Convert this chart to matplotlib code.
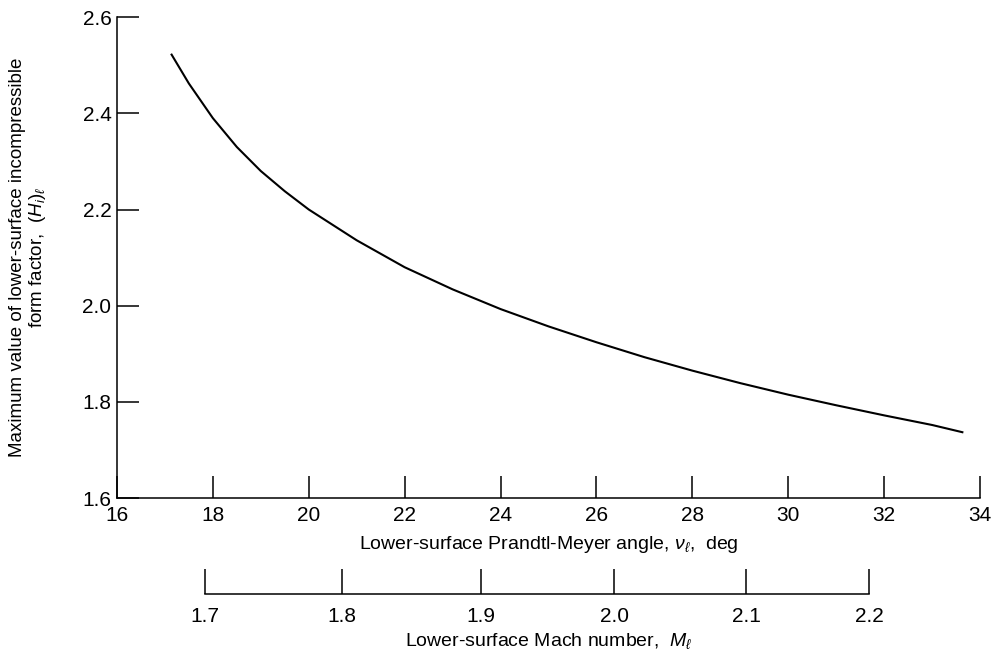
import matplotlib
matplotlib.use("Agg")
import matplotlib.pyplot as plt

plt.rcParams['font.family'] = ['Liberation Sans', 'DejaVu Sans']
plt.rcParams['mathtext.fontset'] = 'custom'
plt.rcParams['mathtext.it'] = 'Liberation Sans:italic'
plt.rcParams['mathtext.rm'] = 'Liberation Sans'

# curve: Prandtl-Meyer angle (deg) vs max (H_i)_l
nu = [17.14, 17.5, 18.0, 18.5, 19.0, 19.5, 20.0, 21.0, 22.0, 23.0, 24.0,
      25.0, 26.0, 27.0, 28.0, 29.0, 30.0, 31.0, 32.0, 33.0, 33.63]
h_max = [2.522, 2.462, 2.390, 2.330, 2.280, 2.238, 2.200, 2.136, 2.080, 2.034, 1.993,
         1.957, 1.924, 1.893, 1.865, 1.839, 1.815, 1.793, 1.772, 1.752, 1.737]

x_ticks = [16, 18, 20, 22, 24, 26, 28, 30, 32, 34]
y_ticks = [1.6, 1.8, 2.0, 2.2, 2.4, 2.6]
y_labels = ['1.6', '1.8', '2.0', '2.2', '2.4', '2.6']

# Mach number scale, placed at the matching Prandtl-Meyer angle
mach_labels = ['1.7', '1.8', '1.9', '2.0', '2.1', '2.2']
mach_nu = [17.84, 20.69, 23.59, 26.37, 29.12, 31.69]

fig = plt.figure(figsize=(9.91, 6.58), dpi=100)
ax = fig.add_axes([0.118, 0.243, 0.871, 0.731])

ax.plot(nu, h_max, color='black', lw=1.5)
ax.set_xlim(16, 34)
ax.set_ylim(1.6, 2.6)
for s in ['top', 'right']:
    ax.spines[s].set_visible(False)
for s in ['left', 'bottom']:
    ax.spines[s].set_linewidth(1.1)

ax.set_xticks(x_ticks)
ax.set_xticklabels([str(t) for t in x_ticks], fontsize=15)
ax.set_yticks(y_ticks)
ax.set_yticklabels(y_labels, fontsize=15)
ax.tick_params(axis='x', direction='in', length=16, width=1.1, pad=6)
ax.tick_params(axis='y', direction='in', length=16, width=1.1, pad=4)

ax.set_xlabel(r'Lower-surface Prandtl-Meyer angle, $\nu_\ell$,  deg', fontsize=14, labelpad=6)
ax.set_ylabel('Maximum value of lower-surface incompressible\nform factor,  $(H_i)_\\ell$',
              fontsize=13.5, linespacing=1.05)
ax.yaxis.set_label_coords(-0.08, 0.5)

# second scale below
ax2 = fig.add_axes([0.118, 0.097, 0.871, 0.0001])
ax2.set_xlim(16, 34)
ax2.set_yticks([])
for s in ['top', 'right', 'left']:
    ax2.spines[s].set_visible(False)
ax2.spines['bottom'].set_bounds(mach_nu[0], mach_nu[-1])
ax2.spines['bottom'].set_linewidth(1.1)
ax2.patch.set_visible(False)
ax2.set_xticks(mach_nu)
ax2.set_xticklabels(mach_labels, fontsize=15)
ax2.tick_params(axis='x', direction='in', length=18, width=1.1, pad=9)
ax2.set_xlabel(r'Lower-surface Mach number,  $M_\ell$', fontsize=14, labelpad=4)

fig.savefig('out.png', dpi=100)
